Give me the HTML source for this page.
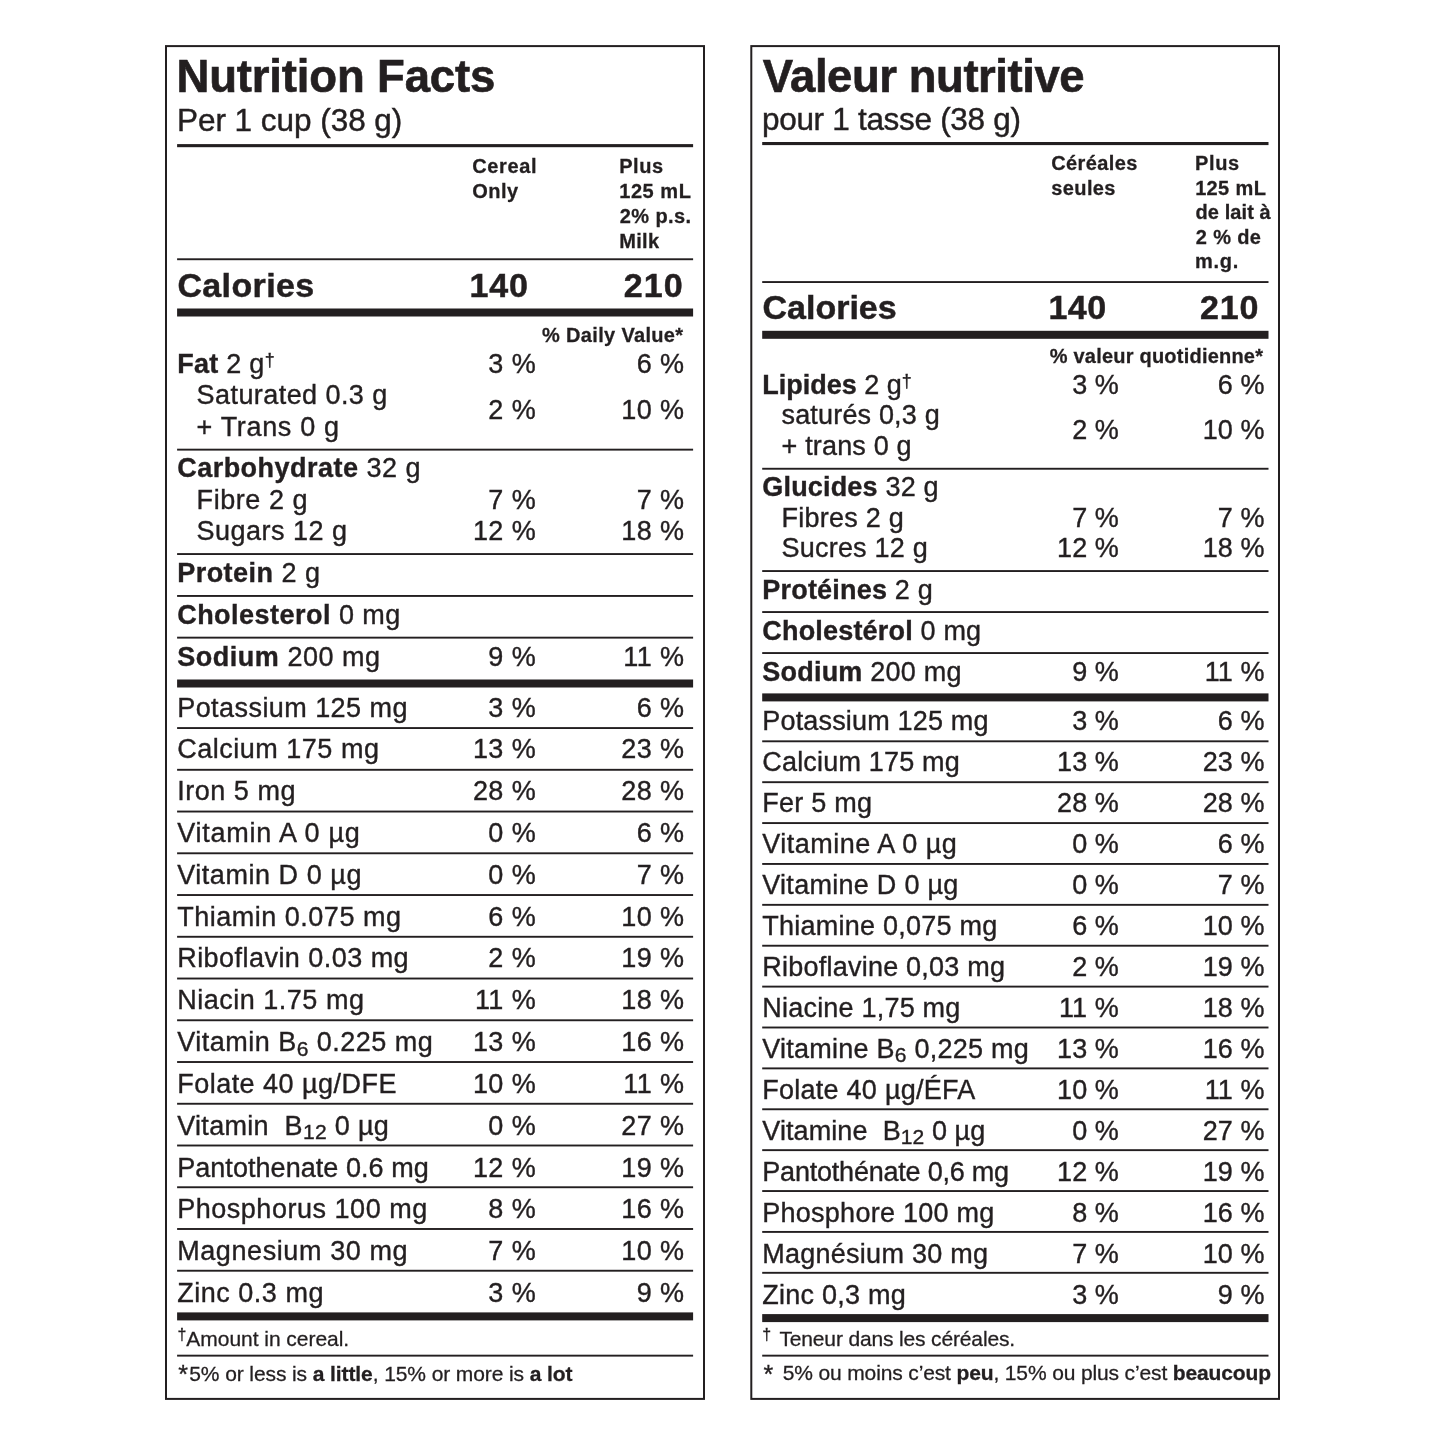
<!DOCTYPE html>
<html lang="en"><head><meta charset="utf-8"><title>Nutrition Facts</title>
<style>
html,body{margin:0;padding:0;background:#fff;}
body{width:1445px;height:1445px;position:relative;overflow:hidden;font-family:"Liberation Sans",sans-serif;color:#231f20;}
#w{position:absolute;left:0;top:0;width:1445px;height:1445px;will-change:transform;}
.t{position:absolute;white-space:nowrap;line-height:1;font-weight:400;-webkit-text-stroke:0.014em #231f20;}
.t b{font-weight:700;}
.r{position:absolute;background:#231f20;}
.box{position:absolute;border-style:solid;border-color:#231f20;}
.dag{font-size:0.66em;position:relative;top:-0.41em;line-height:0;}
.fdag{font-size:0.76em;position:relative;top:-0.39em;line-height:0;}
.sub{font-size:0.78em;position:relative;top:0.21em;line-height:0;}
</style></head><body><div id="w">
<svg width="1445" height="1445" viewBox="0 0 1445 1445" style="position:absolute;left:0;top:0"><rect x="166.00" y="46.10" width="538.00" height="1352.80" fill="none" stroke="#231f20" stroke-width="2.0"/>
<rect x="751.30" y="46.10" width="527.70" height="1352.80" fill="none" stroke="#231f20" stroke-width="2.0"/>
<rect x="177.10" y="144.10" width="516.00" height="3.10" fill="#231f20"/>
<rect x="177.10" y="258.30" width="516.00" height="1.90" fill="#231f20"/>
<rect x="177.10" y="308.50" width="516.00" height="8.00" fill="#231f20"/>
<rect x="177.10" y="448.70" width="516.00" height="1.90" fill="#231f20"/>
<rect x="177.10" y="553.10" width="516.00" height="1.90" fill="#231f20"/>
<rect x="177.10" y="595.00" width="516.00" height="1.90" fill="#231f20"/>
<rect x="177.10" y="636.70" width="516.00" height="1.90" fill="#231f20"/>
<rect x="177.10" y="679.50" width="516.00" height="8.00" fill="#231f20"/>
<rect x="177.10" y="727.10" width="516.00" height="1.90" fill="#231f20"/>
<rect x="177.10" y="768.85" width="516.00" height="1.90" fill="#231f20"/>
<rect x="177.10" y="810.59" width="516.00" height="1.90" fill="#231f20"/>
<rect x="177.10" y="852.34" width="516.00" height="1.90" fill="#231f20"/>
<rect x="177.10" y="894.08" width="516.00" height="1.90" fill="#231f20"/>
<rect x="177.10" y="935.83" width="516.00" height="1.90" fill="#231f20"/>
<rect x="177.10" y="977.57" width="516.00" height="1.90" fill="#231f20"/>
<rect x="177.10" y="1019.32" width="516.00" height="1.90" fill="#231f20"/>
<rect x="177.10" y="1061.06" width="516.00" height="1.90" fill="#231f20"/>
<rect x="177.10" y="1102.81" width="516.00" height="1.90" fill="#231f20"/>
<rect x="177.10" y="1144.55" width="516.00" height="1.90" fill="#231f20"/>
<rect x="177.10" y="1186.30" width="516.00" height="1.90" fill="#231f20"/>
<rect x="177.10" y="1228.04" width="516.00" height="1.90" fill="#231f20"/>
<rect x="177.10" y="1269.78" width="516.00" height="1.90" fill="#231f20"/>
<rect x="177.10" y="1312.40" width="516.00" height="8.00" fill="#231f20"/>
<rect x="177.10" y="1354.70" width="516.00" height="1.90" fill="#231f20"/>
<rect x="762.20" y="142.00" width="506.30" height="3.10" fill="#231f20"/>
<rect x="762.20" y="281.10" width="506.30" height="1.90" fill="#231f20"/>
<rect x="762.20" y="330.80" width="506.30" height="8.00" fill="#231f20"/>
<rect x="762.20" y="467.80" width="506.30" height="1.90" fill="#231f20"/>
<rect x="762.20" y="570.10" width="506.30" height="1.90" fill="#231f20"/>
<rect x="762.20" y="611.10" width="506.30" height="1.90" fill="#231f20"/>
<rect x="762.20" y="652.10" width="506.30" height="1.90" fill="#231f20"/>
<rect x="762.20" y="693.40" width="506.30" height="8.00" fill="#231f20"/>
<rect x="762.20" y="740.35" width="506.30" height="1.90" fill="#231f20"/>
<rect x="762.20" y="781.24" width="506.30" height="1.90" fill="#231f20"/>
<rect x="762.20" y="822.12" width="506.30" height="1.90" fill="#231f20"/>
<rect x="762.20" y="863.00" width="506.30" height="1.90" fill="#231f20"/>
<rect x="762.20" y="903.89" width="506.30" height="1.90" fill="#231f20"/>
<rect x="762.20" y="944.77" width="506.30" height="1.90" fill="#231f20"/>
<rect x="762.20" y="985.66" width="506.30" height="1.90" fill="#231f20"/>
<rect x="762.20" y="1026.55" width="506.30" height="1.90" fill="#231f20"/>
<rect x="762.20" y="1067.43" width="506.30" height="1.90" fill="#231f20"/>
<rect x="762.20" y="1108.32" width="506.30" height="1.90" fill="#231f20"/>
<rect x="762.20" y="1149.20" width="506.30" height="1.90" fill="#231f20"/>
<rect x="762.20" y="1190.09" width="506.30" height="1.90" fill="#231f20"/>
<rect x="762.20" y="1230.97" width="506.30" height="1.90" fill="#231f20"/>
<rect x="762.20" y="1271.86" width="506.30" height="1.90" fill="#231f20"/>
<rect x="762.20" y="1314.10" width="506.30" height="8.00" fill="#231f20"/>
<rect x="762.20" y="1354.70" width="506.30" height="1.90" fill="#231f20"/></svg>
<div class="t" style="left:176.46px;top:54.40px;font-size:45.5px;letter-spacing:-0.160px;"><b>Nutrition Facts</b></div>
<div class="t" style="left:176.92px;top:105.00px;font-size:31.5px;letter-spacing:-0.029px;">Per 1 cup (38 g)</div>
<div class="t" style="left:472.18px;top:155.85px;font-size:20px;letter-spacing:0.636px;"><b>Cereal</b></div>
<div class="t" style="left:472.18px;top:180.80px;font-size:20px;letter-spacing:0.492px;"><b>Only</b></div>
<div class="t" style="left:619.16px;top:155.85px;font-size:20px;letter-spacing:0.569px;"><b>Plus</b></div>
<div class="t" style="left:619.24px;top:180.80px;font-size:20px;letter-spacing:0.547px;"><b>125 mL</b></div>
<div class="t" style="left:619.81px;top:205.75px;font-size:20px;letter-spacing:0.408px;"><b>2% p.s.</b></div>
<div class="t" style="left:619.16px;top:230.70px;font-size:20px;letter-spacing:0.371px;"><b>Milk</b></div>
<div class="t" style="left:177.41px;top:267.60px;font-size:34px;letter-spacing:0.372px;"><b>Calories</b></div>
<div class="t" style="left:469.46px;top:267.60px;font-size:34px;letter-spacing:0.901px;"><b>140</b></div>
<div class="t" style="left:623.82px;top:267.60px;font-size:34px;letter-spacing:1.069px;"><b>210</b></div>
<div class="t" style="left:542.10px;top:324.70px;font-size:20px;letter-spacing:0.328px;"><b>% Daily Value*</b></div>
<div class="t" style="left:177.20px;top:350.90px;font-size:27px;letter-spacing:0.275px;"><b>Fat</b> 2 g<span class="dag">†</span></div>
<div class="t" style="left:488.33px;top:350.90px;font-size:27px;letter-spacing:0.400px;">3 %</div>
<div class="t" style="left:636.73px;top:350.90px;font-size:27px;letter-spacing:0.400px;">6 %</div>
<div class="t" style="left:196.60px;top:382.00px;font-size:27px;letter-spacing:0.429px;">Saturated 0.3 g</div>
<div class="t" style="left:196.60px;top:413.60px;font-size:27px;letter-spacing:0.660px;">+ Trans 0 g</div>
<div class="t" style="left:177.20px;top:455.30px;font-size:27px;letter-spacing:0.477px;"><b>Carbohydrate</b> 32 g</div>
<div class="t" style="left:196.60px;top:486.80px;font-size:27px;letter-spacing:0.547px;">Fibre 2 g</div>
<div class="t" style="left:488.33px;top:486.80px;font-size:27px;letter-spacing:0.400px;">7 %</div>
<div class="t" style="left:636.73px;top:486.80px;font-size:27px;letter-spacing:0.400px;">7 %</div>
<div class="t" style="left:196.60px;top:518.20px;font-size:27px;letter-spacing:0.473px;">Sugars 12 g</div>
<div class="t" style="left:472.92px;top:518.20px;font-size:27px;letter-spacing:0.400px;">12 %</div>
<div class="t" style="left:621.32px;top:518.20px;font-size:27px;letter-spacing:0.400px;">18 %</div>
<div class="t" style="left:177.20px;top:560.10px;font-size:27px;letter-spacing:0.468px;"><b>Protein</b> 2 g</div>
<div class="t" style="left:177.20px;top:602.00px;font-size:27px;letter-spacing:0.472px;"><b>Cholesterol</b> 0 mg</div>
<div class="t" style="left:177.20px;top:643.70px;font-size:27px;letter-spacing:0.531px;"><b>Sodium</b> 200 mg</div>
<div class="t" style="left:488.33px;top:643.70px;font-size:27px;letter-spacing:0.400px;">9 %</div>
<div class="t" style="left:623.32px;top:643.70px;font-size:27px;letter-spacing:0.400px;">11 %</div>
<div class="t" style="left:488.33px;top:396.60px;font-size:27px;letter-spacing:0.400px;">2 %</div>
<div class="t" style="left:621.32px;top:396.60px;font-size:27px;letter-spacing:0.400px;">10 %</div>
<div class="t" style="left:177.20px;top:694.55px;font-size:27px;letter-spacing:0.442px;">Potassium 125 mg</div>
<div class="t" style="left:488.33px;top:694.55px;font-size:27px;letter-spacing:0.400px;">3 %</div>
<div class="t" style="left:636.73px;top:694.55px;font-size:27px;letter-spacing:0.400px;">6 %</div>
<div class="t" style="left:177.20px;top:736.37px;font-size:27px;letter-spacing:0.512px;">Calcium 175 mg</div>
<div class="t" style="left:472.92px;top:736.37px;font-size:27px;letter-spacing:0.400px;">13 %</div>
<div class="t" style="left:621.32px;top:736.37px;font-size:27px;letter-spacing:0.400px;">23 %</div>
<div class="t" style="left:177.20px;top:778.19px;font-size:27px;letter-spacing:0.522px;">Iron 5 mg</div>
<div class="t" style="left:472.92px;top:778.19px;font-size:27px;letter-spacing:0.400px;">28 %</div>
<div class="t" style="left:621.32px;top:778.19px;font-size:27px;letter-spacing:0.400px;">28 %</div>
<div class="t" style="left:177.20px;top:820.01px;font-size:27px;letter-spacing:0.767px;">Vitamin A 0 µg</div>
<div class="t" style="left:488.33px;top:820.01px;font-size:27px;letter-spacing:0.400px;">0 %</div>
<div class="t" style="left:636.73px;top:820.01px;font-size:27px;letter-spacing:0.400px;">6 %</div>
<div class="t" style="left:177.20px;top:861.83px;font-size:27px;letter-spacing:0.546px;">Vitamin D 0 µg</div>
<div class="t" style="left:488.33px;top:861.83px;font-size:27px;letter-spacing:0.400px;">0 %</div>
<div class="t" style="left:636.73px;top:861.83px;font-size:27px;letter-spacing:0.400px;">7 %</div>
<div class="t" style="left:177.20px;top:903.65px;font-size:27px;letter-spacing:0.509px;">Thiamin 0.075 mg</div>
<div class="t" style="left:488.33px;top:903.65px;font-size:27px;letter-spacing:0.400px;">6 %</div>
<div class="t" style="left:621.32px;top:903.65px;font-size:27px;letter-spacing:0.400px;">10 %</div>
<div class="t" style="left:177.20px;top:945.47px;font-size:27px;letter-spacing:0.460px;">Riboflavin 0.03 mg</div>
<div class="t" style="left:488.33px;top:945.47px;font-size:27px;letter-spacing:0.400px;">2 %</div>
<div class="t" style="left:621.32px;top:945.47px;font-size:27px;letter-spacing:0.400px;">19 %</div>
<div class="t" style="left:177.20px;top:987.29px;font-size:27px;letter-spacing:0.511px;">Niacin 1.75 mg</div>
<div class="t" style="left:474.92px;top:987.29px;font-size:27px;letter-spacing:0.400px;">11 %</div>
<div class="t" style="left:621.32px;top:987.29px;font-size:27px;letter-spacing:0.400px;">18 %</div>
<div class="t" style="left:177.20px;top:1029.11px;font-size:27px;letter-spacing:0.488px;">Vitamin B<span class="sub">6</span> 0.225 mg</div>
<div class="t" style="left:472.92px;top:1029.11px;font-size:27px;letter-spacing:0.400px;">13 %</div>
<div class="t" style="left:621.32px;top:1029.11px;font-size:27px;letter-spacing:0.400px;">16 %</div>
<div class="t" style="left:177.20px;top:1070.93px;font-size:27px;letter-spacing:0.480px;">Folate 40 µg/DFE</div>
<div class="t" style="left:472.92px;top:1070.93px;font-size:27px;letter-spacing:0.400px;">10 %</div>
<div class="t" style="left:623.32px;top:1070.93px;font-size:27px;letter-spacing:0.400px;">11 %</div>
<div class="t" style="left:177.20px;top:1112.75px;font-size:27px;letter-spacing:0.316px;">Vitamin &nbsp;B<span class="sub">12</span> 0 µg</div>
<div class="t" style="left:488.33px;top:1112.75px;font-size:27px;letter-spacing:0.400px;">0 %</div>
<div class="t" style="left:621.32px;top:1112.75px;font-size:27px;letter-spacing:0.400px;">27 %</div>
<div class="t" style="left:177.20px;top:1154.57px;font-size:27px;letter-spacing:0.047px;">Pantothenate 0.6 mg</div>
<div class="t" style="left:472.92px;top:1154.57px;font-size:27px;letter-spacing:0.400px;">12 %</div>
<div class="t" style="left:621.32px;top:1154.57px;font-size:27px;letter-spacing:0.400px;">19 %</div>
<div class="t" style="left:177.20px;top:1196.39px;font-size:27px;letter-spacing:0.524px;">Phosphorus 100 mg</div>
<div class="t" style="left:488.33px;top:1196.39px;font-size:27px;letter-spacing:0.400px;">8 %</div>
<div class="t" style="left:621.32px;top:1196.39px;font-size:27px;letter-spacing:0.400px;">16 %</div>
<div class="t" style="left:177.20px;top:1238.21px;font-size:27px;letter-spacing:0.588px;">Magnesium 30 mg</div>
<div class="t" style="left:488.33px;top:1238.21px;font-size:27px;letter-spacing:0.400px;">7 %</div>
<div class="t" style="left:621.32px;top:1238.21px;font-size:27px;letter-spacing:0.400px;">10 %</div>
<div class="t" style="left:177.20px;top:1280.03px;font-size:27px;letter-spacing:0.518px;">Zinc 0.3 mg</div>
<div class="t" style="left:488.33px;top:1280.03px;font-size:27px;letter-spacing:0.400px;">3 %</div>
<div class="t" style="left:636.73px;top:1280.03px;font-size:27px;letter-spacing:0.400px;">9 %</div>
<div class="t" style="left:177.52px;top:1327.90px;font-size:21px;letter-spacing:-0.041px;"><span class="fdag">†</span>Amount in cereal.</div>
<div class="t" style="left:178.20px;top:1361.60px;font-size:25px;">*</div>
<div class="t" style="left:189.26px;top:1362.70px;font-size:21px;letter-spacing:-0.097px;">5% or less is <b>a little</b>, 15% or more is <b>a lot</b></div>
<div class="t" style="left:762.69px;top:54.40px;font-size:45.5px;letter-spacing:-0.458px;"><b>Valeur nutritive</b></div>
<div class="t" style="left:761.97px;top:104.00px;font-size:31.5px;letter-spacing:-0.301px;">pour 1 tasse (38 g)</div>
<div class="t" style="left:1051.18px;top:153.20px;font-size:20px;letter-spacing:0.391px;"><b>Céréales</b></div>
<div class="t" style="left:1051.30px;top:177.70px;font-size:20px;letter-spacing:0.372px;"><b>seules</b></div>
<div class="t" style="left:1195.06px;top:153.20px;font-size:20px;letter-spacing:0.603px;"><b>Plus</b></div>
<div class="t" style="left:1195.14px;top:177.70px;font-size:20px;letter-spacing:0.367px;"><b>125 mL</b></div>
<div class="t" style="left:1195.58px;top:202.20px;font-size:20px;letter-spacing:0.073px;"><b>de lait à</b></div>
<div class="t" style="left:1195.71px;top:226.70px;font-size:20px;letter-spacing:0.384px;"><b>2 % de</b></div>
<div class="t" style="left:1195.08px;top:251.20px;font-size:20px;letter-spacing:0.690px;"><b>m.g.</b></div>
<div class="t" style="left:762.51px;top:290.00px;font-size:34px;"><b>Calories</b></div>
<div class="t" style="left:1048.56px;top:290.00px;font-size:34px;letter-spacing:0.401px;"><b>140</b></div>
<div class="t" style="left:1200.12px;top:290.00px;font-size:34px;letter-spacing:0.819px;"><b>210</b></div>
<div class="t" style="left:1049.70px;top:345.70px;font-size:20px;letter-spacing:0.219px;"><b>% valeur quotidienne*</b></div>
<div class="t" style="left:762.30px;top:371.90px;font-size:27px;letter-spacing:-0.008px;"><b>Lipides</b> 2 g<span class="dag">†</span></div>
<div class="t" style="left:1072.13px;top:371.90px;font-size:27px;letter-spacing:0.050px;">3 %</div>
<div class="t" style="left:1217.83px;top:371.90px;font-size:27px;letter-spacing:0.050px;">6 %</div>
<div class="t" style="left:781.50px;top:402.30px;font-size:27px;letter-spacing:0.171px;">saturés 0,3 g</div>
<div class="t" style="left:781.50px;top:433.10px;font-size:27px;letter-spacing:0.180px;">+ trans 0 g</div>
<div class="t" style="left:762.30px;top:474.00px;font-size:27px;letter-spacing:0.178px;"><b>Glucides</b> 32 g</div>
<div class="t" style="left:781.50px;top:504.70px;font-size:27px;letter-spacing:0.242px;">Fibres 2 g</div>
<div class="t" style="left:1072.13px;top:504.70px;font-size:27px;letter-spacing:0.050px;">7 %</div>
<div class="t" style="left:1217.83px;top:504.70px;font-size:27px;letter-spacing:0.050px;">7 %</div>
<div class="t" style="left:781.50px;top:535.30px;font-size:27px;letter-spacing:0.215px;">Sucres 12 g</div>
<div class="t" style="left:1057.07px;top:535.30px;font-size:27px;letter-spacing:0.050px;">12 %</div>
<div class="t" style="left:1202.77px;top:535.30px;font-size:27px;letter-spacing:0.050px;">18 %</div>
<div class="t" style="left:762.30px;top:576.60px;font-size:27px;letter-spacing:0.196px;"><b>Protéines</b> 2 g</div>
<div class="t" style="left:762.30px;top:617.60px;font-size:27px;letter-spacing:0.185px;"><b>Cholestérol</b> 0 mg</div>
<div class="t" style="left:762.30px;top:658.60px;font-size:27px;letter-spacing:0.215px;"><b>Sodium</b> 200 mg</div>
<div class="t" style="left:1072.13px;top:658.60px;font-size:27px;letter-spacing:0.050px;">9 %</div>
<div class="t" style="left:1204.77px;top:658.60px;font-size:27px;letter-spacing:0.050px;">11 %</div>
<div class="t" style="left:1072.13px;top:416.50px;font-size:27px;letter-spacing:0.050px;">2 %</div>
<div class="t" style="left:1202.77px;top:416.50px;font-size:27px;letter-spacing:0.050px;">10 %</div>
<div class="t" style="left:762.30px;top:707.97px;font-size:27px;letter-spacing:0.169px;">Potassium 125 mg</div>
<div class="t" style="left:1072.13px;top:707.97px;font-size:27px;letter-spacing:0.050px;">3 %</div>
<div class="t" style="left:1217.83px;top:707.97px;font-size:27px;letter-spacing:0.050px;">6 %</div>
<div class="t" style="left:762.30px;top:748.95px;font-size:27px;letter-spacing:0.182px;">Calcium 175 mg</div>
<div class="t" style="left:1057.07px;top:748.95px;font-size:27px;letter-spacing:0.050px;">13 %</div>
<div class="t" style="left:1202.77px;top:748.95px;font-size:27px;letter-spacing:0.050px;">23 %</div>
<div class="t" style="left:762.30px;top:789.93px;font-size:27px;letter-spacing:0.258px;">Fer 5 mg</div>
<div class="t" style="left:1057.07px;top:789.93px;font-size:27px;letter-spacing:0.050px;">28 %</div>
<div class="t" style="left:1202.77px;top:789.93px;font-size:27px;letter-spacing:0.050px;">28 %</div>
<div class="t" style="left:762.30px;top:830.91px;font-size:27px;letter-spacing:0.489px;">Vitamine A 0 µg</div>
<div class="t" style="left:1072.13px;top:830.91px;font-size:27px;letter-spacing:0.050px;">0 %</div>
<div class="t" style="left:1217.83px;top:830.91px;font-size:27px;letter-spacing:0.050px;">6 %</div>
<div class="t" style="left:762.30px;top:871.89px;font-size:27px;letter-spacing:0.277px;">Vitamine D 0 µg</div>
<div class="t" style="left:1072.13px;top:871.89px;font-size:27px;letter-spacing:0.050px;">0 %</div>
<div class="t" style="left:1217.83px;top:871.89px;font-size:27px;letter-spacing:0.050px;">7 %</div>
<div class="t" style="left:762.30px;top:912.87px;font-size:27px;letter-spacing:0.245px;">Thiamine 0,075 mg</div>
<div class="t" style="left:1072.13px;top:912.87px;font-size:27px;letter-spacing:0.050px;">6 %</div>
<div class="t" style="left:1202.77px;top:912.87px;font-size:27px;letter-spacing:0.050px;">10 %</div>
<div class="t" style="left:762.30px;top:953.85px;font-size:27px;letter-spacing:0.228px;">Riboflavine 0,03 mg</div>
<div class="t" style="left:1072.13px;top:953.85px;font-size:27px;letter-spacing:0.050px;">2 %</div>
<div class="t" style="left:1202.77px;top:953.85px;font-size:27px;letter-spacing:0.050px;">19 %</div>
<div class="t" style="left:762.30px;top:994.83px;font-size:27px;letter-spacing:0.209px;">Niacine 1,75 mg</div>
<div class="t" style="left:1059.07px;top:994.83px;font-size:27px;letter-spacing:0.050px;">11 %</div>
<div class="t" style="left:1202.77px;top:994.83px;font-size:27px;letter-spacing:0.050px;">18 %</div>
<div class="t" style="left:762.30px;top:1035.81px;font-size:27px;letter-spacing:0.246px;">Vitamine B<span class="sub">6</span> 0,225 mg</div>
<div class="t" style="left:1057.07px;top:1035.81px;font-size:27px;letter-spacing:0.050px;">13 %</div>
<div class="t" style="left:1202.77px;top:1035.81px;font-size:27px;letter-spacing:0.050px;">16 %</div>
<div class="t" style="left:762.30px;top:1076.79px;font-size:27px;letter-spacing:0.252px;">Folate 40 µg/ÉFA</div>
<div class="t" style="left:1057.07px;top:1076.79px;font-size:27px;letter-spacing:0.050px;">10 %</div>
<div class="t" style="left:1204.77px;top:1076.79px;font-size:27px;letter-spacing:0.050px;">11 %</div>
<div class="t" style="left:762.30px;top:1117.77px;font-size:27px;letter-spacing:0.079px;">Vitamine &nbsp;B<span class="sub">12</span> 0 µg</div>
<div class="t" style="left:1072.13px;top:1117.77px;font-size:27px;letter-spacing:0.050px;">0 %</div>
<div class="t" style="left:1202.77px;top:1117.77px;font-size:27px;letter-spacing:0.050px;">27 %</div>
<div class="t" style="left:762.30px;top:1158.75px;font-size:27px;letter-spacing:-0.214px;">Pantothénate 0,6 mg</div>
<div class="t" style="left:1057.07px;top:1158.75px;font-size:27px;letter-spacing:0.050px;">12 %</div>
<div class="t" style="left:1202.77px;top:1158.75px;font-size:27px;letter-spacing:0.050px;">19 %</div>
<div class="t" style="left:762.30px;top:1199.73px;font-size:27px;letter-spacing:0.252px;">Phosphore 100 mg</div>
<div class="t" style="left:1072.13px;top:1199.73px;font-size:27px;letter-spacing:0.050px;">8 %</div>
<div class="t" style="left:1202.77px;top:1199.73px;font-size:27px;letter-spacing:0.050px;">16 %</div>
<div class="t" style="left:762.30px;top:1240.71px;font-size:27px;letter-spacing:0.252px;">Magnésium 30 mg</div>
<div class="t" style="left:1072.13px;top:1240.71px;font-size:27px;letter-spacing:0.050px;">7 %</div>
<div class="t" style="left:1202.77px;top:1240.71px;font-size:27px;letter-spacing:0.050px;">10 %</div>
<div class="t" style="left:762.30px;top:1281.69px;font-size:27px;letter-spacing:0.238px;">Zinc 0,3 mg</div>
<div class="t" style="left:1072.13px;top:1281.69px;font-size:27px;letter-spacing:0.050px;">3 %</div>
<div class="t" style="left:1217.83px;top:1281.69px;font-size:27px;letter-spacing:0.050px;">9 %</div>
<div class="t" style="left:762.32px;top:1327.90px;font-size:21px;"><span class="fdag">†</span></div>
<div class="t" style="left:779.43px;top:1327.90px;font-size:21px;letter-spacing:-0.151px;">Teneur dans les céréales.</div>
<div class="t" style="left:763.40px;top:1361.50px;font-size:25px;">*</div>
<div class="t" style="left:782.66px;top:1362.20px;font-size:21px;letter-spacing:-0.135px;">5% ou moins c’est <b>peu</b>, 15% ou plus c’est <b>beaucoup</b></div>
</div></body></html>
